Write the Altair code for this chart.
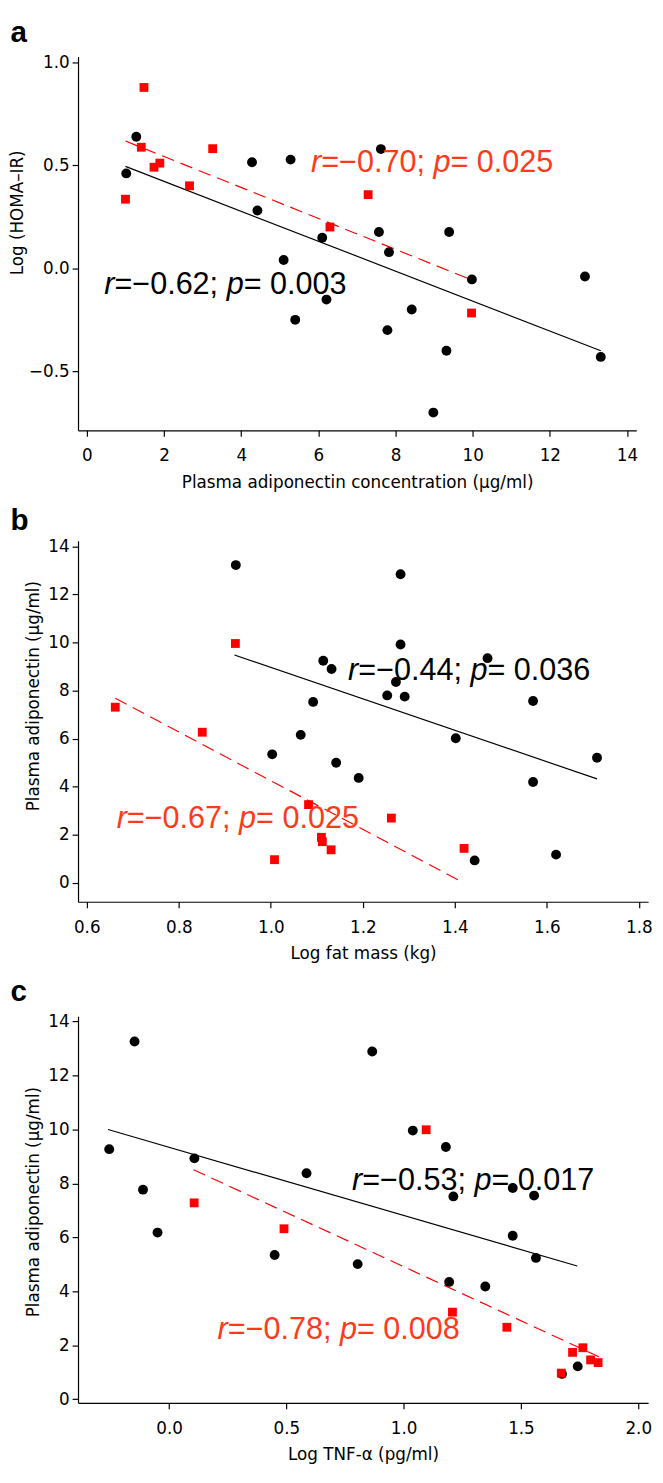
import altair as alt
import pandas as pd

AXIS_FONT = "DejaVu Sans"
ANN_FONT = "Liberation Sans"
RED = "#FF0000"
ANN_RED = "#FF3A1A"

# ---------------- panel a ----------------
a_black_x = [1.02, 1.28, 4.28, 4.42, 5.28, 5.10, 5.40, 6.10, 6.21, 7.57,
             7.62, 7.79, 7.83, 8.42, 8.98, 9.32, 9.39, 9.98, 12.91, 13.32]
a_black_y = [0.46, 0.638, 0.514, 0.28, 0.527, 0.04, -0.25, 0.148, -0.152, 0.176,
             0.578, -0.30, 0.078, -0.20, -0.70, -0.40, 0.176, -0.054, -0.04, -0.43]
a_red_x = [1.00, 1.41, 1.48, 1.74, 1.89, 2.66, 3.26, 6.30, 7.29, 9.97]
a_red_y = [0.335, 0.587, 0.877, 0.49, 0.51, 0.40, 0.58, 0.20, 0.357, -0.217]
a_fit_black_x = [1.0, 13.32]
a_fit_black_y = [0.494, -0.40]
a_fit_red_x = [1.0, 9.86]
a_fit_red_y = [0.617, -0.048]
a_xticks = [0, 2, 4, 6, 8, 10, 12, 14]
a_yticks = [-0.5, 0.0, 0.5, 1.0]
a_ann_black = ("−0.62", "0.003", 0.45, -0.08)
a_ann_red = ("−0.70", "0.025", 5.81, 0.512)

# ---------------- panel b ----------------
b_black_x = [0.924, 1.003, 1.065, 1.092, 1.114, 1.132, 1.142, 1.191, 1.253, 1.272,
             1.282, 1.282, 1.291, 1.402, 1.443, 1.471, 1.570, 1.570, 1.620, 1.709]
b_black_y = [13.22, 5.35, 6.16, 7.53, 9.24, 8.90, 5.00, 4.37, 7.80, 8.36,
             12.84, 9.92, 7.75, 6.02, 0.94, 9.35, 7.57, 4.20, 1.18, 5.21]
b_red_x = [0.662, 0.851, 0.923, 1.008, 1.082, 1.110, 1.112, 1.131, 1.262, 1.420]
b_red_y = [7.31, 6.27, 9.96, 0.97, 3.26, 1.90, 1.72, 1.38, 2.70, 1.44]
b_fit_black_x = [0.921, 1.709]
b_fit_black_y = [9.48, 4.33]
b_fit_red_x = [0.662, 1.42]
b_fit_red_y = [7.68, 0.0]
b_xticks = [0.6, 0.8, 1.0, 1.2, 1.4, 1.6, 1.8]
b_yticks = [0, 2, 4, 6, 8, 10, 12, 14]
b_ann_black = ("−0.44", "0.036", 1.168, 8.81)
b_ann_red = ("−0.67", "0.025", 0.665, 2.66)

# ---------------- panel c ----------------
c_black_x = [-0.255, -0.147, -0.111, -0.049, 0.108, 0.45, 0.586, 0.804, 0.866, 1.039,
             1.18, 1.194, 1.212, 1.348, 1.465, 1.465, 1.556, 1.564, 1.675, 1.742]
c_black_y = [9.27, 13.26, 7.77, 6.18, 8.93, 5.35, 8.38, 5.01, 12.89, 9.96,
             9.35, 4.35, 7.52, 4.18, 7.83, 6.06, 7.55, 5.24, 0.94, 1.22]
c_red_x = [0.107, 0.49, 1.096, 1.208, 1.44, 1.672, 1.72, 1.764, 1.797, 1.829]
c_red_y = [7.28, 6.32, 9.99, 3.23, 2.67, 0.97, 1.74, 1.91, 1.46, 1.36]
c_fit_black_x = [-0.26, 1.74]
c_fit_black_y = [10.0, 4.94]
c_fit_red_x = [0.104, 1.832]
c_fit_red_y = [8.51, 1.58]
c_xticks = [0.0, 0.5, 1.0, 1.5, 2.0]
c_yticks = [0, 2, 4, 6, 8, 10, 12, 14]
c_ann_black = ("−0.53", "0.017", 0.78, 8.10)
c_ann_red = ("−0.78", "0.008", 0.207, 2.58)

# Arial / Liberation Sans advance widths (em)
CW = {"r": 0.333, "p": 0.556, "=": 0.584, "−": 0.584, ".": 0.278, ";": 0.278, " ": 0.278}
ANN_SIZE = 31


def text_width(s):
    return sum(CW.get(ch, 0.556) for ch in s) * ANN_SIZE


def annotation(ann, color, X, Y):
    rval, pval, ax, ay = ann
    df = pd.DataFrame({"x": [ax], "y": [ay]})
    pieces = [("r", "italic"), ("=" + rval + "; ", "normal"), ("p", "italic"), ("= " + pval, "normal")]
    layers = []
    off = 0.0
    for txt, style in pieces:
        layers.append(
            alt.Chart(df).mark_text(
                text=txt, font=ANN_FONT, fontSize=ANN_SIZE, fontStyle=style,
                color=color, align="left", baseline="middle", dx=off
            ).encode(x=X, y=Y)
        )
        off += text_width(txt)
    return layers


def panel(label, bx, by, rx, ry, fbx, fby, frx, fry, xdom, ydom, xticks, yticks,
          xfmt, yfmt, xtitle, ytitle, w, h, ann_b, ann_r, loff, ty, tpad):
    X = alt.X("x:Q", scale=alt.Scale(domain=xdom, nice=False, zero=False),
              axis=alt.Axis(values=xticks, format=xfmt, title=xtitle))
    Y = alt.Y("y:Q", scale=alt.Scale(domain=ydom, nice=False, zero=False),
              axis=alt.Axis(values=yticks, format=yfmt, title=ytitle, titleY=ty, titlePadding=tpad))
    black = pd.DataFrame({"x": bx, "y": by})
    red = pd.DataFrame({"x": rx, "y": ry})
    fb = pd.DataFrame({"x": fbx, "y": fby})
    fr = pd.DataFrame({"x": frx, "y": fry})
    lab = pd.DataFrame({"t": [label]})
    layers = [
        alt.Chart(fb).mark_line(color="black", strokeWidth=1.2).encode(x=X, y=Y),
        alt.Chart(fr).mark_line(color=RED, strokeWidth=1.2, strokeDash=[13, 7]).encode(x=X, y=Y),
        alt.Chart(black).mark_circle(size=100, color="black", opacity=1).encode(x=X, y=Y),
        alt.Chart(red).mark_square(size=80, color=RED, opacity=1).encode(x=X, y=Y),
    ]
    layers += annotation(ann_b, "black", X, Y)
    layers += annotation(ann_r, ANN_RED, X, Y)
    layers.append(
        alt.Chart(lab).mark_text(font=ANN_FONT, fontSize=30, fontWeight="bold", color="black",
                                 align="left", baseline="alphabetic").encode(
            text="t:N", x=alt.value(-68.5), y=alt.value(-loff))
    )
    return alt.layer(*layers).properties(width=w, height=h)


pa = panel("a", a_black_x, a_black_y, a_red_x, a_red_y, a_fit_black_x, a_fit_black_y,
           a_fit_red_x, a_fit_red_y, [-0.23, 14.24], [-0.786, 1.027], a_xticks, a_yticks,
           "d", ".1f", "Plasma adiponectin concentration (µg/ml)", "Log (HOMA–IR)",
           566, 379, a_ann_black, a_ann_red, 15, 158, 2)
pb = panel("b", b_black_x, b_black_y, b_red_x, b_red_y, b_fit_black_x, b_fit_black_y,
           b_fit_red_x, b_fit_red_y, [0.581, 1.82], [-0.78, 14.23], b_xticks, b_yticks,
           ".1f", "d", "Log fat mass (kg)", "Plasma adiponectin (µg/ml)",
           578, 366, b_ann_black, b_ann_red, 11, 157, 5)
pc = panel("c", c_black_x, c_black_y, c_red_x, c_red_y, c_fit_black_x, c_fit_black_y,
           c_fit_red_x, c_fit_red_y, [-0.388, 2.042], [-0.13, 14.2], c_xticks, c_yticks,
           ".1f", "d", "Log TNF-α (pg/ml)", "Plasma adiponectin (µg/ml)",
           578, 392, c_ann_black, c_ann_red, 15, 188, 5)

chart = alt.vconcat(pa, pb, pc, spacing=16, padding={"left": 0, "top": 0, "right": 2, "bottom": 2}).configure_view(
    stroke=None
).configure_axis(
    grid=False, domainColor="black", domainWidth=1.2, tickColor="black", tickSize=6,
    tickWidth=1.2, labelFont=AXIS_FONT, labelFontSize=17, labelColor="black",
    titleFont=AXIS_FONT, titleFontSize=17, titleFontWeight="normal", titleColor="black",
).configure_axisX(labelPadding=12, titlePadding=11).configure_axisY(labelPadding=3)

chart.save("out.html", embed_options={"renderer": "svg", "actions": False})
